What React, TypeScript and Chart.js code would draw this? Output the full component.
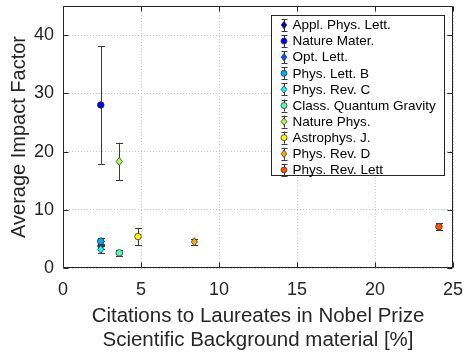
import React, { useEffect, useRef } from "react";
import { Chart, registerables } from "chart.js";

Chart.register(...registerables);

const journals = [
  "Appl. Phys. Lett.",
  "Nature Mater.",
  "Opt. Lett.",
  "Phys. Lett. B",
  "Phys. Rev. C",
  "Class. Quantum Gravity",
  "Nature Phys.",
  "Astrophys. J.",
  "Phys. Rev. D",
  "Phys. Rev. Lett",
];
const citationsPct = [2.42, 2.42, 2.42, 2.42, 2.42, 3.61, 3.61, 4.81, 8.42, 24.1];
const impactFactor = [3.9, 28.0, 3.7, 4.6, 3.2, 2.6, 18.3, 5.4, 4.5, 7.1];
const impactError = [0.7, 10.1, 0.5, 0.6, 0.6, 0.5, 3.2, 1.5, 0.5, 0.6];
const xTicks = [0, 5, 10, 15, 20, 25];
const yTicks = [0, 10, 20, 30, 40];

const markerStyles = ["rectRot", "circle", "rectRot", "circle", "rectRot", "circle", "rectRot", "circle", "rectRot", "circle"];
const markerColors = [
  "rgb(0,0,170)",
  "rgb(0,0,255)",
  "rgb(0,85,255)",
  "rgb(0,170,255)",
  "rgb(0,255,255)",
  "rgb(85,255,170)",
  "rgb(170,255,85)",
  "rgb(255,255,0)",
  "rgb(255,170,0)",
  "rgb(255,85,0)",
];

const FONT = "'Liberation Sans', Arial, Helvetica, sans-serif";
const AXIS = "#262626";

function drawMarker(ctx: CanvasRenderingContext2D, style: string, x: number, y: number, r: number, fill: string) {
  ctx.save();
  ctx.fillStyle = fill;
  ctx.strokeStyle = "#333";
  ctx.lineWidth = 0.8;
  ctx.beginPath();
  if (style === "circle") {
    ctx.arc(x, y, r, 0, Math.PI * 2);
  } else {
    const d = r * 1.25;
    ctx.moveTo(x, y - d);
    ctx.lineTo(x + d * 0.75, y);
    ctx.lineTo(x, y + d);
    ctx.lineTo(x - d * 0.75, y);
    ctx.closePath();
  }
  ctx.fill();
  ctx.stroke();
  ctx.restore();
}

function drawErrBar(ctx: CanvasRenderingContext2D, x: number, y1: number, y2: number, cap: number) {
  ctx.save();
  ctx.strokeStyle = "#3a3a3a";
  ctx.lineWidth = 1;
  ctx.beginPath();
  const xx = Math.round(x) + 0.5;
  ctx.moveTo(xx, y1);
  ctx.lineTo(xx, y2);
  ctx.moveTo(xx - cap, Math.round(y1) + 0.5);
  ctx.lineTo(xx + cap, Math.round(y1) + 0.5);
  ctx.moveTo(xx - cap, Math.round(y2) + 0.5);
  ctx.lineTo(xx + cap, Math.round(y2) + 0.5);
  ctx.stroke();
  ctx.restore();
}

const plotPlugin = {
  id: "matlabPlot",
  afterDatasetsDraw(chart: any) {
    const { ctx, scales } = chart;
    const xs = scales.x;
    const ys = scales.y;
    journals.forEach((_, i) => {
      const px = xs.getPixelForValue(citationsPct[i]);
      const py = ys.getPixelForValue(impactFactor[i]);
      const top = ys.getPixelForValue(impactFactor[i] + impactError[i]);
      const bot = ys.getPixelForValue(impactFactor[i] - impactError[i]);
      drawErrBar(ctx, px, top, bot, 3.5);
      drawMarker(ctx, markerStyles[i], px, py, 3.3, markerColors[i]);
    });
  },
  afterDraw(chart: any) {
    const { ctx, chartArea, scales } = chart;
    const { left, right, top, bottom } = chartArea;
    ctx.save();
    ctx.strokeStyle = AXIS;
    ctx.lineWidth = 1;
    const L = Math.round(left) + 0.5;
    const R = Math.round(right) - 0.5;
    const T = Math.round(top) + 0.5;
    const B = Math.round(bottom) - 0.5;
    ctx.beginPath();
    ctx.rect(L, T, R - L, B - T);
    const tl = 5;
    xTicks.forEach((v) => {
      const px = Math.round(scales.x.getPixelForValue(v)) + 0.5;
      ctx.moveTo(px, B);
      ctx.lineTo(px, B - tl);
      ctx.moveTo(px, T);
      ctx.lineTo(px, T + tl);
    });
    yTicks.forEach((v) => {
      const py = Math.round(scales.y.getPixelForValue(v)) + 0.5;
      ctx.moveTo(L, py);
      ctx.lineTo(L + tl, py);
      ctx.moveTo(R, py);
      ctx.lineTo(R - tl, py);
    });
    ctx.stroke();

    // legend
    const lx = 271.5, ly = 15.5, lw = 173, lh = 160;
    ctx.fillStyle = "#fff";
    ctx.fillRect(lx, ly, lw, lh);
    ctx.strokeStyle = AXIS;
    ctx.strokeRect(lx, ly, lw, lh);
    ctx.font = `13.5px ${FONT}`;
    ctx.textBaseline = "middle";
    ctx.textAlign = "left";
    journals.forEach((name, i) => {
      const ry = 25 + i * 16.1;
      drawErrBar(ctx, 283.5, ry - 6, ry + 6, 3);
      drawMarker(ctx, markerStyles[i], 284, ry, 3, markerColors[i]);
      ctx.fillStyle = "#000";
      ctx.fillText(name, 292.5, ry + 0.5);
    });
    ctx.restore();
  },
};

export default function App() {
  const ref = useRef<HTMLCanvasElement | null>(null);
  useEffect(() => {
    document.body.style.margin = "0";
    const canvas = ref.current!;
    const chart = new Chart(canvas, {
      type: "scatter",
      data: {
        datasets: journals.map((name, i) => ({
          label: name,
          data: [{ x: citationsPct[i], y: impactFactor[i] }],
          pointRadius: 0,
          pointHoverRadius: 0,
          backgroundColor: markerColors[i],
        })),
      },
      options: {
        animation: false,
        responsive: false,
        devicePixelRatio: 1,
        events: [],
        layout: { padding: { top: 6, right: 16, left: 0, bottom: 0 } },
        plugins: { legend: { display: false }, tooltip: { enabled: false } },
        scales: {
          x: {
            type: "linear",
            min: 0,
            max: 25,
            afterBuildTicks: (s: any) => {
              s.ticks = xTicks.map((v) => ({ value: v }));
            },
            afterFit: (s: any) => {
              s.height = 87;
              s.paddingLeft = 0;
              s.paddingRight = 0;
            },
            ticks: { color: AXIS, font: { family: FONT, size: 18 }, padding: 11, maxRotation: 0 },
            grid: { color: "#c8c8c8", drawTicks: false, lineWidth: 1 },
            border: { display: false, dash: [1, 2] },
            title: {
              display: true,
              text: ["Citations to Laureates in Nobel Prize", "Scientific Background material [%]"],
              color: AXIS,
              font: { family: FONT, size: 20.5, lineHeight: 1.2 },
              padding: { top: 0, bottom: 2 },
            },
          },
          y: {
            type: "linear",
            min: 0,
            max: 45,
            afterBuildTicks: (s: any) => {
              s.ticks = yTicks.map((v) => ({ value: v }));
            },
            afterFit: (s: any) => {
              s.width = 63;
              s.paddingTop = 0;
              s.paddingBottom = 0;
            },
            ticks: { color: AXIS, font: { family: FONT, size: 18 }, padding: 9 },
            grid: { color: "#c8c8c8", drawTicks: false, lineWidth: 1 },
            border: { display: false, dash: [1, 2] },
            title: {
              display: true,
              text: "Average Impact Factor",
              color: AXIS,
              font: { family: FONT, size: 20, lineHeight: 1.2 },
              padding: { top: 7, bottom: 0 },
            },
          },
        },
      },
      plugins: [plotPlugin],
    } as any);
    return () => chart.destroy();
  }, []);
  return <canvas ref={ref} width={469} height={355} style={{ display: "block", width: 469, height: 355 }} />;
}
